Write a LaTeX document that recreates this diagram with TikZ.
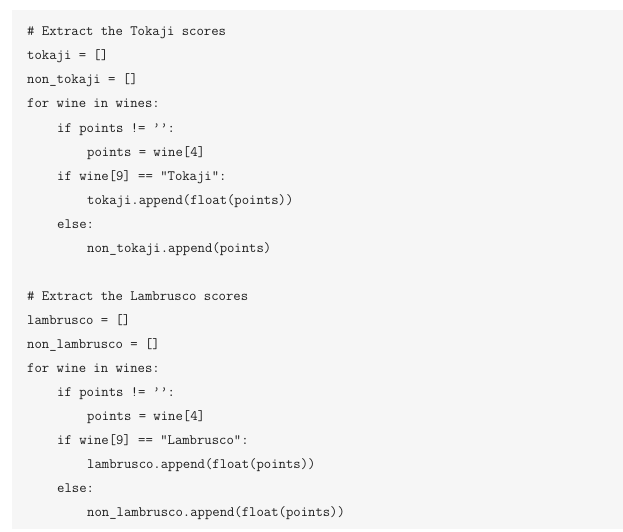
\documentclass[tikz,border=0pt]{standalone}
\usepackage{fontspec}
\usepackage{tikz}
\usetikzlibrary{positioning}
\definecolor{codebg}{RGB}{246, 246, 246}
\definecolor{codetext}{RGB}{30, 30, 30}

\begin{document}
\begin{tikzpicture}[x=1pt, y=-1pt,
  codeline/.style={anchor=base west, inner sep=0pt, text=codetext, font=\ttfamily\fontsize{14.3}{18}\selectfont}]
  \useasboundingbox (0, 0) rectangle (623, 532);
  \fill[codebg] (12, 10) rectangle (623, 529);

  % Tokaji block
  \node[codeline] (tokcomment) at (27, 36) {\# Extract the Tokaji scores};
  \node[codeline] (tokinit) at (27, 60) {tokaji = []};
  \node[codeline] (nontokinit) at (27, 84) {non\_tokaji = []};
  \node[codeline] (tokloop) at (27, 108) {for wine in wines:};
  \node[codeline] (tokifpts) at (57, 132) {if points != ’’:};
  \node[codeline] (tokpts) at (87, 156) {points = wine[4]};
  \node[codeline] (tokifname) at (57, 180) {if wine[9] == “Tokaji”:};
  \node[codeline] (tokappend) at (87, 204) {tokaji.append(float(points))};
  \node[codeline] (tokelse) at (57, 228) {else:};
  \node[codeline] (nontokappend) at (87, 252) {non\_tokaji.append(points)};

  % Lambrusco block
  \node[codeline] (lamcomment) at (27, 300) {\# Extract the Lambrusco scores};
  \node[codeline] (laminit) at (27, 324) {lambrusco = []};
  \node[codeline] (nonlaminit) at (27, 348) {non\_lambrusco = []};
  \node[codeline] (lamloop) at (27, 372) {for wine in wines:};
  \node[codeline] (lamifpts) at (57, 396) {if points != ’’:};
  \node[codeline] (lampts) at (87, 420) {points = wine[4]};
  \node[codeline] (lamifname) at (57, 444) {if wine[9] == “Lambrusco”:};
  \node[codeline] (lamappend) at (87, 468) {lambrusco.append(float(points))};
  \node[codeline] (lamelse) at (57, 492) {else:};
  \node[codeline] (nonlamappend) at (87, 516) {non\_lambrusco.append(float(points))};
\end{tikzpicture}
\end{document}
